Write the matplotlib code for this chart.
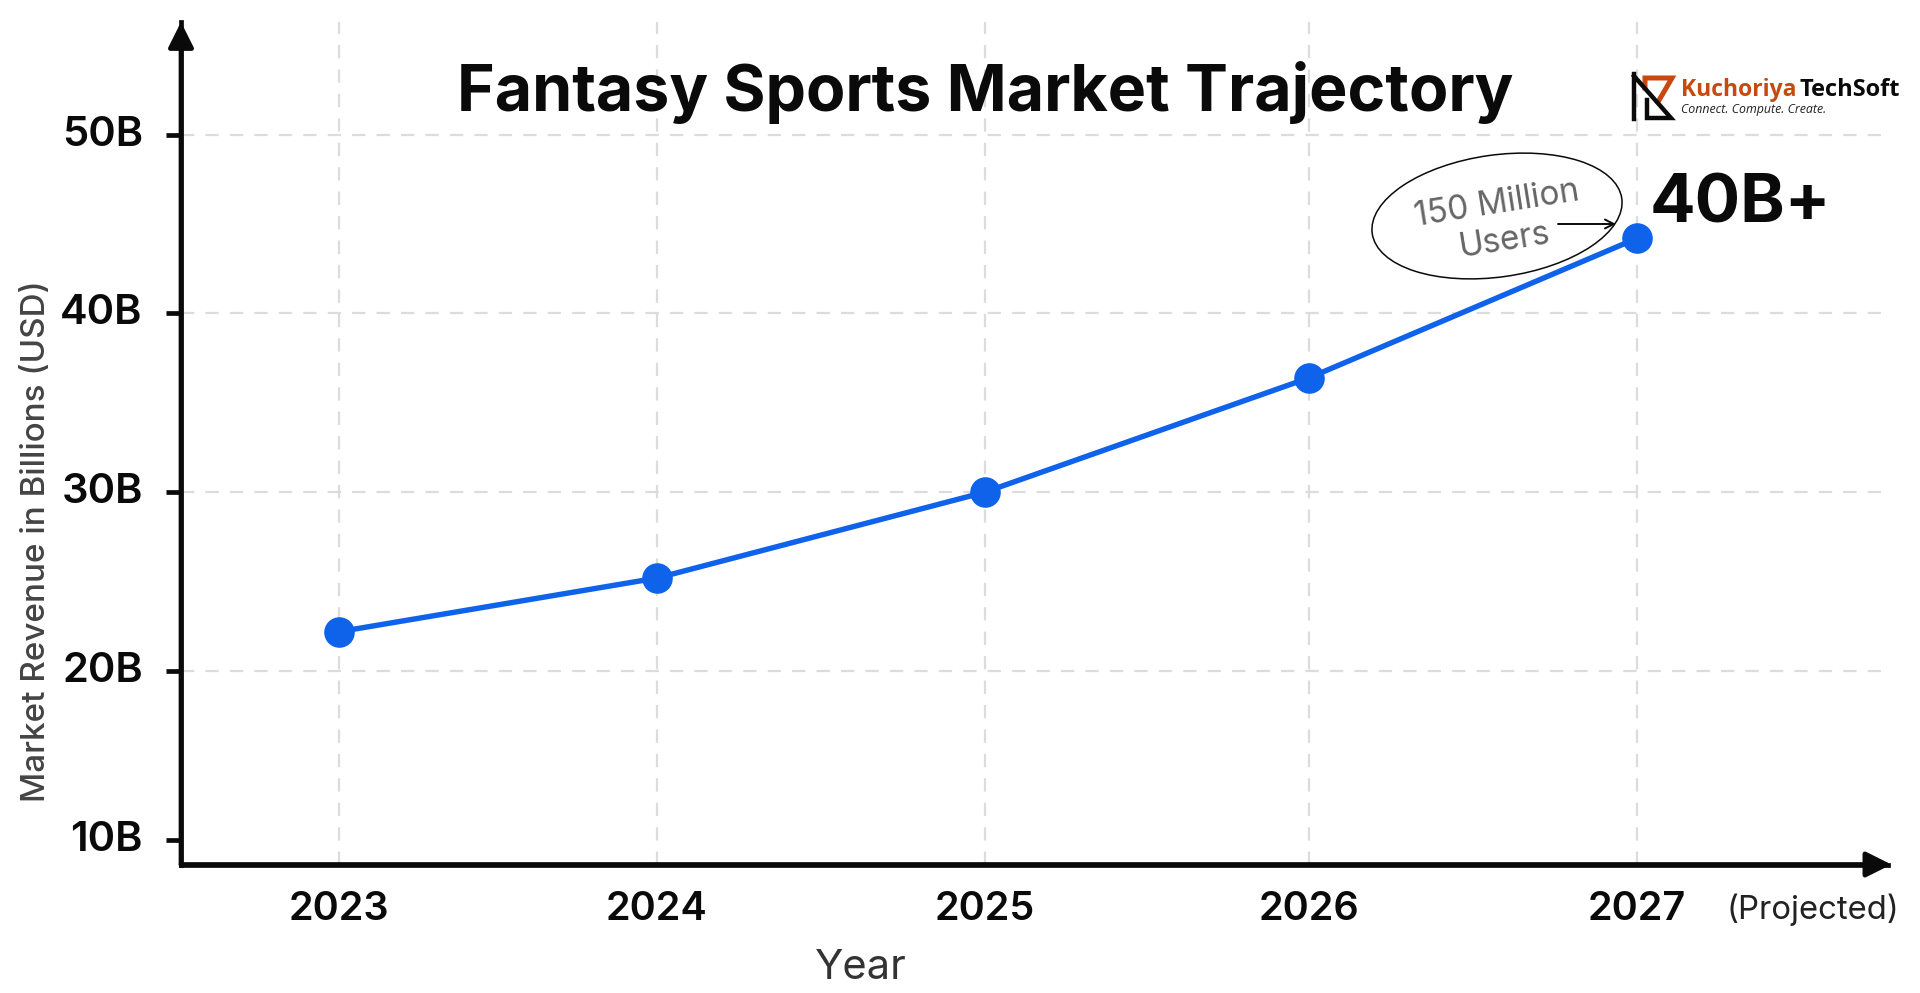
import numpy as np
from matplotlib import pyplot as plt
from matplotlib.patches import Ellipse

plt.rcParams['font.family'] = ['Inter', 'DejaVu Sans']

years = [2023, 2024, 2025, 2026, 2027]
revenue = [22.2, 25.2, 30.0, 36.4, 44.2]
y_ticks = [10.55, 20, 30, 40, 50]
y_labels = ["10B", "20B", "30B", "40B", "50B"]
x_nudge = [0, -0.02, -0.01, -0.01, 0]

x = np.array(years) + np.array(x_nudge)
W, H = 1920, 993
BLACK = "#0a0a0a"
BLUE = "#0f62ea"
GRID = "#dcdcdc"
ORANGE = "#c8490f"

fig = plt.figure(figsize=(W / 100, H / 100), dpi=100, facecolor="white")
ax = fig.add_axes([181 / W, 1 - 864.5 / H, (1888 - 181) / W, (864.5 - 22) / H])
ax.set_xlim(2022.513, 2027.774)
ax.set_ylim(9.18, 56.3)

# grid
dash = (0, (6, 5))
ax.hlines(y_ticks[1:], 2022.513, 2027.755, color=GRID, lw=1.6, linestyles=[dash])
ax.vlines(x, 9.18, 56.3, color=GRID, lw=1.6, linestyles=[dash])

# line
ax.plot(x, revenue, color=BLUE, lw=3.9, marker="o", ms=21, solid_capstyle="round", zorder=4)

# axes
for s in ["top", "right"]:
    ax.spines[s].set_visible(False)
for s in ["left", "bottom"]:
    ax.spines[s].set_linewidth(3.4)
    ax.spines[s].set_color(BLACK)
    ax.spines[s].set_capstyle("projecting")
for tip in [(1.002, 0), (0, 1.0)]:
    ax.annotate("", xy=tip, xytext=(0, 0), xycoords="axes fraction", textcoords="axes fraction",
                arrowprops=dict(arrowstyle="-|>,head_length=0.9,head_width=0.45", color=BLACK, lw=3.4,
                                shrinkA=0, shrinkB=0, mutation_scale=17))

ax.set_xticks(x)
ax.set_xticklabels(years, fontsize=28.5, fontweight="semibold", color=BLACK)
ax.set_yticks(y_ticks)
ax.set_yticklabels(y_labels, fontsize=30, fontweight="semibold", color=BLACK, va="center")
ax.tick_params(axis="x", length=0, pad=19)
ax.tick_params(axis="y", length=11, width=3.4, pad=16.5, color=BLACK)

ax.set_ylabel("Market Revenue in Billions (USD)", fontsize=23.9, color="#444444", fontweight="medium")
ax.yaxis.set_label_coords(-0.0755, 0.384)
ax.set_xlabel("Year", fontsize=30, color="#333333")
ax.xaxis.set_label_coords(0.3985, -0.1)

# overlay in pixels for notes and logo
ov = fig.add_axes([0, 0, 1, 1], zorder=5)
ov.set_xlim(0, W)
ov.set_ylim(H, 0)
ov.axis("off")
ov.patch.set_alpha(0)

ov.text(985, 93, "Fantasy Sports Market Trajectory", fontsize=46.4, fontweight="bold",
        color=BLACK, ha="center", va="center")
ov.text(1813, 910, "(Projected)", fontsize=23.7, color="#222222", ha="center", va="center")
ov.text(1740, 205, "40B+", fontsize=48.5, fontweight="bold", color=BLACK, ha="center", va="center")

# callout
ov.add_patch(Ellipse((1497, 216), 252, 122, angle=-8, fill=False, ec=BLACK, lw=1.1))
ov.text(1497, 204, "150 Million", fontsize=24, color="#666666", rotation=9, ha="center", va="center")
ov.text(1504, 241, "Users", fontsize=24, color="#666666", rotation=9, ha="center", va="center")
ov.annotate("", xy=(1616, 224), xytext=(1558, 224),
            arrowprops=dict(arrowstyle="->", color=BLACK, lw=1.4, shrinkA=0, shrinkB=0, mutation_scale=16))

# logo
ov.plot([1645, 1645, 1672, 1658], [88, 78, 78, 102], color=ORANGE, lw=3.6, solid_joinstyle="miter")
ov.plot([1634, 1634], [74, 119], color=BLACK, lw=3.2)
ov.plot([1634, 1671, 1647, 1647], [76, 118, 118, 100], color=BLACK, lw=3.2, solid_joinstyle="miter")
ov.text(1681, 90, "Kuchoriya", fontsize=16.5, fontweight="bold", color=ORANGE, ha="left", va="center",
        family=["Open Sans", "DejaVu Sans"])
ov.text(1800, 90, "TechSoft", fontsize=17, fontweight="bold", color=BLACK, ha="left", va="center",
        family=["Open Sans", "DejaVu Sans"])
ov.text(1681, 109, "Connect. Compute. Create.", fontsize=8.9, style="italic", color="#222222", ha="left",
        va="center", family=["Open Sans", "DejaVu Sans"])

fig.savefig("out.png", dpi=100)
